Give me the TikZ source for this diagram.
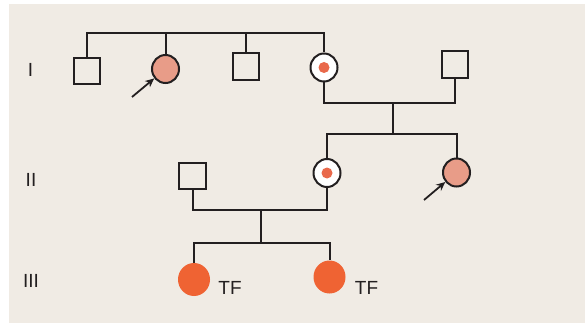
\documentclass[tikz,border=0pt]{standalone}
\usepackage{fontspec}
\setmainfont{Liberation Sans}
\usetikzlibrary{arrows.meta,shapes.geometric}
\definecolor{linec}{HTML}{231F20}
\definecolor{bgc}{HTML}{F0EBE4}
\definecolor{salmon}{HTML}{E89C88}
\definecolor{orangef}{HTML}{EF6333}
\definecolor{dotc}{HTML}{E9694B}
\tikzset{
  lw/.style={line width=2pt, draw=linec},
  male/.style={rectangle, lw, minimum width=26.5pt, minimum height=26.5pt, inner sep=0pt},
  female/.style={ellipse, lw, minimum width=27pt, minimum height=28pt, inner sep=0pt},
  affected/.style={female, fill=salmon},
  carrier/.style={female, fill=white},
  dotmark/.style={circle, fill=dotc, minimum size=11pt, inner sep=0pt},
  sick/.style={ellipse, fill=orangef, minimum width=32pt, minimum height=33pt, inner sep=0pt},
  conn/.style={lw},
  proband/.style={line width=1.8pt, draw=linec, -{Stealth[length=9pt,width=8pt]}},
  lbl/.style={font=\fontsize{19}{22}\selectfont, text=linec, inner sep=0pt},
}
\begin{document}
\begin{tikzpicture}[x=1pt,y=-1pt]
\useasboundingbox (0,0) rectangle (585,326);
\fill[bgc] (9,4) rectangle (585,323);
% generation labels
\node[lbl] (g1) at (30.5,70) {I};
\node[lbl] (g2) at (31,180) {II};
\node[lbl] (g3) at (31,281) {III};
% generation I
\node[male] (i1) at (87,71) {};
\node[affected] (i2) at (165.5,69) {};
\node[male] (i3) at (246,66.5) {};
\node[carrier] (i4) at (324,67.5) {};
\node[dotmark] (d4) at (i4.center) {};
\node[male] (i5) at (455,64.5) {};
% generation II
\node[male] (ii1) at (192.5,176) {};
\node[carrier] (ii2) at (327,173) {};
\node[dotmark] (d22) at (ii2.center) {};
\node[affected] (ii3) at (456.5,172.5) {};
% generation III
\node[sick] (iii1) at (194,279.5) {};
\node[sick] (iii2) at (329.5,277) {};
\node[lbl] (tf1) at (230,287.5) {TF};
\node[lbl] (tf2) at (366.5,287.5) {TF};
% sibship I
\coordinate (s1) at (205,33);
\draw[conn] (i1.north) |- (s1) -| (i4.north);
\draw[conn] (i2.north) -- (i2.north |- s1);
\draw[conn] (i3.north) -- (i3.north |- s1);
% marriage I and descent
\coordinate (m1) at (393,103);
\coordinate (s2) at (393,134);
\draw[conn] (i4.south) |- (m1) -| (i5.south);
\draw[conn] (m1) -- (s2);
\draw[conn] (ii2.north) |- (s2) -| (ii3.north);
% marriage II and descent
\coordinate (m2) at (261,210);
\coordinate (s3) at (261,243);
\draw[conn] (ii1.south) |- (m2) -| (ii2.south);
\draw[conn] (m2) -- (s3);
\draw[conn] (iii1.north) |- (s3) -| (iii2.north);
% proband arrows
\coordinate (a1) at (132,97);
\coordinate (a2) at (424,200);
\draw[proband] (a1) -- (i2);
\draw[proband] (a2) -- (ii3);
\end{tikzpicture}
\end{document}
